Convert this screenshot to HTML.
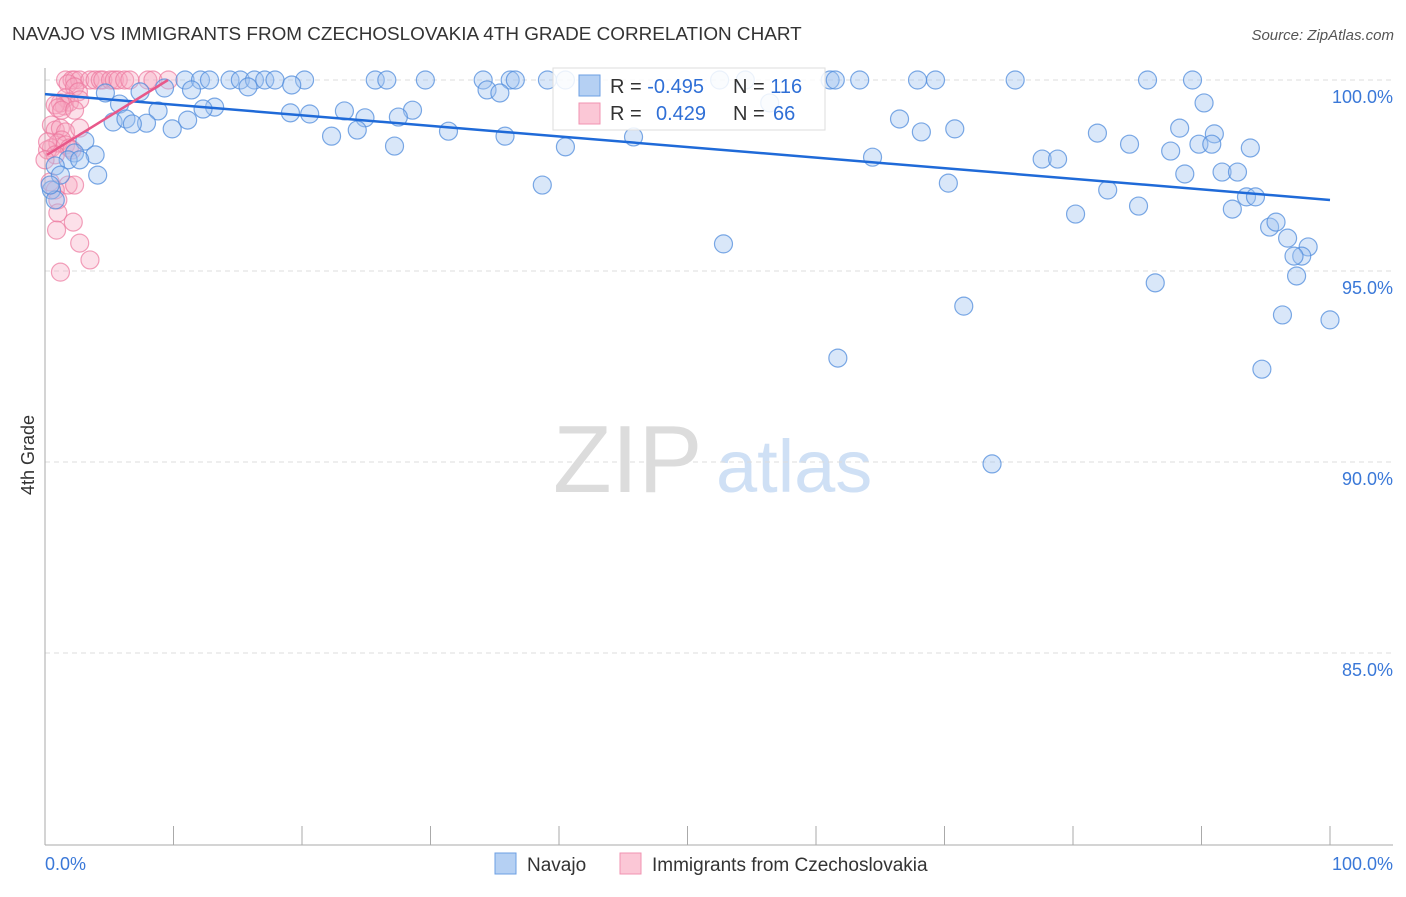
<!DOCTYPE html>
<html><head><meta charset="utf-8"><style>
body{margin:0;background:#fff;font-family:"Liberation Sans",sans-serif}
svg text{font-family:"Liberation Sans",sans-serif}
</style></head><body>
<svg id="c" width="1406" height="892">
<text x="12" y="40" font-size="18.9" fill="#333">NAVAJO VS IMMIGRANTS FROM CZECHOSLOVAKIA 4TH GRADE CORRELATION CHART</text>
<text x="1394" y="40" font-size="15" fill="#555" font-style="italic" text-anchor="end">Source: ZipAtlas.com</text>
<text x="34" y="455" font-size="18" fill="#333" text-anchor="middle" transform="rotate(-90 34 455)">4th Grade</text>
<g><text x="553" y="492" font-size="96" fill="#dcdcdc" font-family="Liberation Serif">ZIP</text><text x="716" y="492" font-size="74" fill="#cfe0f5">atlas</text></g>
<g id="grid"></g><g id="pts"></g><g id="trend"></g>
<g>
<rect x="553" y="68" width="272" height="62" fill="#fff" fill-opacity="0.85" stroke="#ddd"/>
<rect x="579" y="75" width="21" height="21" fill="#b5d0f3" stroke="#6c9fe3"/>
<rect x="579" y="103" width="21" height="21" fill="#fbc7d6" stroke="#f093b1"/>
<text x="610" y="93" font-size="20" fill="#333">R = <tspan fill="#2f6fd6">-0.495</tspan></text>
<text x="733" y="93" font-size="20" fill="#333">N = <tspan fill="#2f6fd6">116</tspan></text>
<text x="610" y="120" font-size="20" fill="#333">R = <tspan fill="#2f6fd6" x="656">0.429</tspan></text>
<text x="733" y="120" font-size="20" fill="#333">N = <tspan fill="#2f6fd6" x="773">66</tspan></text>
</g>
<g>
<rect x="495" y="853" width="21" height="21" fill="#b5d0f3" stroke="#6c9fe3"/><text x="527" y="871" font-size="19" fill="#333">Navajo</text>
<rect x="620" y="853" width="21" height="21" fill="#fbc7d6" stroke="#f093b1"/><text x="652" y="871" font-size="19" fill="#333">Immigrants from Czechoslovakia</text>
</g>
</svg>
<script>
const yTicks=[100,95,90,85];
const xTicks=[0,10,20,30,40,50,60,70,80,90,100];
const navX=[10.9,12.1,12.8,14.4,15.2,16.3,17.1,17.9,20.2,25.7,26.6,29.6,34.1,36.2,36.6,39.1,40.5,52.5,54.5,61.1,61.5,63.4,67.9,69.3,75.5,85.8,89.3,
4.7,7.4,11.4,9.3,15.8,19.2,34.4,35.4,56.4,5.8,13.2,12.3,8.8,23.3,19.1,20.6,28.6,27.5,24.9,11.1,5.3,6.3,7.9,6.8,9.9,35.8,31.4,22.3,24.3,45.8,40.5,27.2,90.2,66.5,68.2,70.8,81.9,84.4,88.3,91.0,89.8,87.6,93.8,90.8,77.6,78.8,64.4,3.1,2.3,3.9,1.8,2.7,0.8,1.2,4.1,0.5,0.8,0.4,38.7,70.3,82.7,88.7,91.6,92.8,93.5,94.2,85.1,92.4,80.2,95.3,95.8,96.7,98.3,97.8,97.2,97.4,52.8,86.4,71.5,96.3,100,61.7,94.7,73.7];
const navY=[100,100,100,100,100,100,100,100,100,100,100,100,100,100,100,100,100,100,100,100,100,100,100,100,100,100,100,
99.66,99.69,99.74,99.79,99.82,99.87,99.74,99.66,99.40,99.37,99.29,99.24,99.19,99.19,99.14,99.11,99.21,99.03,99.01,98.95,98.90,98.98,98.87,98.85,98.72,98.53,98.66,98.53,98.69,98.51,98.25,98.27,99.40,98.98,98.64,98.72,98.61,98.32,98.74,98.59,98.32,98.14,98.22,98.32,97.93,97.93,97.98,98.40,98.09,98.04,97.91,97.91,97.75,97.51,97.51,97.12,96.86,97.25,97.25,97.30,97.12,97.54,97.59,97.59,96.94,96.94,96.70,96.62,96.49,96.15,96.28,95.86,95.63,95.39,95.39,94.87,95.71,94.69,94.08,93.85,93.72,92.72,92.43,89.95];
const czX=[1.6,2.1,2.3,2.7,3.5,3.9,4.3,4.5,5.1,5.4,5.7,6.2,6.6,8.0,8.4,9.6,
1.8,2.3,2.6,1.6,1.9,1.5,1.2,0.8,2.7,1.0,1.3,2.3,0.5,0.8,1.2,1.6,1.3,0.5,1.0,1.6,1.9,0.2,2.1,0.2,2.7,0.8,0,1.8,0.4,0.8,1.0,1.0,2.2,0.9,2.7,3.5,1.2,2.3];
const czY=[100,100,100,100,100,100,100,100,100,100,100,100,100,100,100,100,
99.9,99.82,99.69,99.53,99.42,99.32,99.40,99.35,99.48,99.27,99.21,99.21,98.82,98.69,98.74,98.64,98.43,98.22,98.35,98.30,98.22,98.17,98.17,98.38,98.74,98.04,97.91,97.25,97.33,97.12,96.86,96.52,96.28,96.07,95.73,95.29,94.97,97.25];
const navTrend=[[0,99.63],[100,96.86]];
const czTrend=[[0.16,98.04],[9.57,100]];
const NS='http://www.w3.org/2000/svg';
const sx=v=>45+v*12.85, sy=v=>80+(100-v)*38.2;
function mk(t,a,p){const e=document.createElementNS(NS,t);for(const k in a)e.setAttribute(k,a[k]);p.appendChild(e);return e;}
const g=document.getElementById('grid');
yTicks.forEach(t=>{
 const l=mk('line',{x1:45,x2:1393,y1:sy(t),y2:sy(t),stroke:'#ddd','stroke-dasharray':'5,4'},g);
 
 
 const tx=mk('text',{x:1393,y:sy(t)+23,'font-size':18,fill:'#3a78d8','text-anchor':'end'},g);tx.textContent=t.toFixed(1)+'%';
 
 
});
const ax=mk('line',{x1:45,x2:45,y1:68,y2:845,stroke:'#aaa'},g);


const bx=mk('line',{x1:45,x2:1393,y1:845,y2:845,stroke:'#aaa'},g);


xTicks.forEach(t=>{const l=mk('line',{x1:sx(t),x2:sx(t),y1:826,y2:845,stroke:'#aaa'},g);
 
 });
const xl0=mk('text',{x:45,y:870,'font-size':18,fill:'#3a78d8'},g);xl0.textContent='0.0%';


const xl1=mk('text',{x:1393,y:870,'font-size':18,fill:'#3a78d8','text-anchor':'end'},g);xl1.textContent='100.0%';


const p=document.getElementById('pts');
czX.forEach((x,i)=>{const c=mk('circle',{cx:sx(x),cy:sy(czY[i]),r:9,fill:'rgba(246,165,192,0.35)',stroke:'rgba(236,120,158,0.7)','stroke-width':1.2},p);
 
 });
navX.forEach((x,i)=>{const c=mk('circle',{cx:sx(x),cy:sy(navY[i]),r:9,fill:'rgba(160,196,240,0.4)',stroke:'rgba(80,140,220,0.75)','stroke-width':1.2},p);
 
 });
const tr=document.getElementById('trend');
const t1=mk('line',{x1:sx(navTrend[0][0]),y1:sy(navTrend[0][1]),x2:sx(navTrend[1][0]),y2:sy(navTrend[1][1]),stroke:'#1f6ad8','stroke-width':2.5},tr);


const t2=mk('line',{x1:sx(czTrend[0][0]),y1:sy(czTrend[0][1]),x2:sx(czTrend[1][0]),y2:sy(czTrend[1][1]),stroke:'#e8588a','stroke-width':2.5},tr);


</script>
</body></html>
